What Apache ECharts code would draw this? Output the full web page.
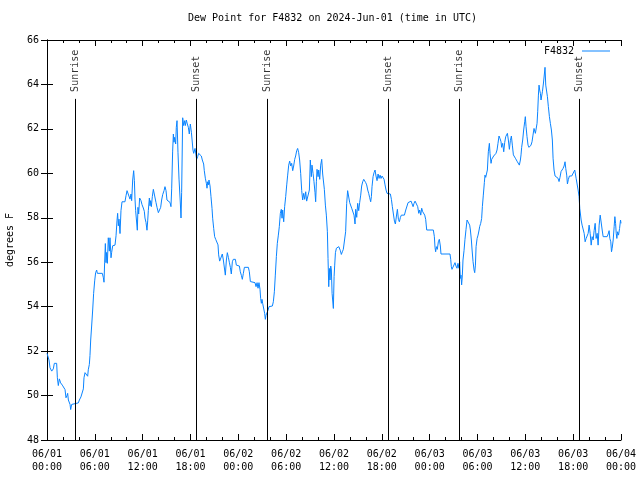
<!DOCTYPE html>
<html>
<head>
<meta charset="utf-8">
<script src="https://cdn.jsdelivr.net/npm/echarts@6/dist/echarts.min.js"></script>
<style>html,body{margin:0;padding:0;background:#fff}#c{width:640px;height:480px}</style>
</head>
<body>
<div id="c"></div>
<script>
// Hours since 2024-06-01 00:00 UTC
const hours = [
0.00,0.25,0.38,0.59,0.79,0.92,1.21,1.30,1.42,1.55,1.71,1.92,2.17,2.26,2.38,2.51,2.59,2.68,2.89,2.97,3.09,3.22,3.93,4.06,4.26,4.43,4.56,4.64,4.77,5.02,5.10,5.18,5.31,5.39,5.48,5.60,5.73,5.85,5.98,6.10,6.23,6.31,6.94,7.07,7.15,7.23,7.32,7.40,7.48,7.57,7.69,7.82,7.90,8.03,8.11,8.24,8.53,8.66,8.78,8.86,8.95,9.03,9.16,9.28,9.41,9.78,9.91,10.04,10.29,10.41,10.54,10.62,10.75,10.87,10.96,11.04,11.12,11.25,11.33,11.41,11.50,11.62,11.79,11.92,12.08,12.21,12.29,12.42,12.54,12.63,12.71,12.84,12.92,13.00,13.09,13.21,13.34,13.55,13.67,13.80,13.97,14.13,14.26,14.38,14.51,14.68,14.80,14.93,15.05,15.30,15.43,15.55,15.64,15.76,15.85,15.93,16.01,16.14,16.22,16.31,16.43,16.56,16.73,16.81,16.89,17.02,17.14,17.27,17.35,17.48,17.60,17.73,17.85,17.98,18.11,18.23,18.31,18.40,18.52,
18.57,18.69,18.77,18.90,19.02,19.19,19.36,19.48,19.65,19.73,19.86,19.99,20.07,20.15,20.24,20.32,20.45,20.57,20.70,20.78,20.91,21.03,21.16,21.33,21.45,21.53,21.66,21.87,21.99,22.12,22.25,22.37,22.50,22.62,22.75,22.87,23.00,23.12,23.25,23.37,23.63,23.75,23.88,24.13,24.25,24.38,24.50,24.63,24.76,25.26,25.38,25.51,25.63,26.09,26.22,26.35,26.47,26.59,26.72,26.80,26.89,26.97,27.05,27.18,27.30,27.39,27.47,27.56,27.73,27.85,28.27,28.39,28.52,28.64,28.77,28.89,29.02,29.14,29.27,29.39,29.48,29.56,29.69,29.81,29.94,30.07,30.19,30.32,30.44,30.57,30.69,30.82,30.94,31.07,31.19,31.32,31.44,31.57,31.69,31.82,31.95,32.07,32.20,32.32,32.45,32.57,32.82,32.91,33.03,33.16,33.24,33.37,33.49,33.62,33.70,33.79,33.87,34.00,34.08,34.21,34.33,34.46,34.58,34.71,34.79,34.92,35.04,35.17,35.25,35.34,35.42,35.50,35.59,35.67,35.76,35.84,35.92,36.01,36.09,36.18,36.30,36.43,36.60,
36.80,36.92,37.05,37.17,37.34,37.46,37.59,37.71,37.84,37.97,38.09,38.22,38.39,38.51,38.64,38.72,38.85,38.97,39.10,39.22,39.35,39.47,39.60,39.73,39.85,39.98,40.10,40.23,40.35,40.48,40.60,40.69,40.77,40.90,41.02,41.15,41.27,41.40,41.53,41.65,41.78,41.90,42.03,42.15,42.28,42.40,42.53,42.65,42.82,43.07,43.20,43.32,43.45,43.58,43.70,43.83,43.95,44.08,44.20,44.33,44.45,44.83,45.00,45.16,45.29,45.41,45.67,45.79,45.92,46.04,46.17,46.38,46.50,46.63,46.75,46.88,47.00,47.13,47.25,47.38,47.50,47.63,47.75,48.46,48.59,48.67,48.75,48.84,48.96,49.09,49.21,49.34,49.42,49.55,50.55,50.64,50.72,50.80,51.05,51.18,51.30,51.43,51.55,51.68,51.76,51.85,51.93,52.01,52.10,52.18,52.31,52.43,52.56,52.69,52.81,52.89,53.02,53.11,53.23,53.32,53.44,53.57,53.65,53.74,53.82,53.95,54.07,54.20,
54.27,54.40,54.52,54.61,54.73,54.86,54.94,55.03,55.15,55.24,55.36,55.49,55.57,55.70,55.78,55.91,56.03,56.20,56.32,56.45,56.57,56.70,56.82,56.95,57.03,57.16,57.29,57.41,57.54,57.66,57.75,57.87,58.00,58.12,58.25,58.37,58.50,58.62,58.75,58.87,59.00,59.12,59.25,59.38,59.46,59.54,59.67,59.79,59.92,60.00,60.09,60.21,60.34,60.46,60.59,60.71,60.84,60.96,61.09,61.17,61.26,61.38,61.47,61.55,61.64,61.72,61.80,61.89,61.97,62.05,62.14,62.26,62.39,62.47,62.56,62.64,62.77,62.89,63.02,63.14,63.27,63.39,63.48,63.60,63.73,63.85,63.98,64.10,64.23,64.35,64.48,64.61,64.73,64.86,64.98,65.07,65.19,65.28,65.40,65.53,65.65,65.82,65.95,66.07,66.20,66.28,66.37,66.49,66.62,66.74,66.83,66.91,67.00,67.12,67.25,67.38,67.50,67.63,67.75,67.88,68.00,68.13,68.26,68.38,68.51,68.63,68.76,68.88,69.01,69.13,69.26,69.39,69.51,69.64,69.76,70.26,70.39,70.51,70.60,70.72,70.81,70.89,71.02,71.14,71.23,71.32,71.40,71.48,71.57,71.69,71.82,71.94,72.00
];
// Dew point, degrees F
const dewF = [
51.9,51.6,51.25,51.1,51.2,51.45,51.45,50.8,50.45,50.75,50.57,50.47,50.47,50.27,49.9,50.0,50.1,49.8,49.6,49.37,49.6,49.67,49.67,49.8,49.94,49.94,50.3,50.8,51.03,51.1,50.87,51.16,51.4,51.8,52.5,53.13,53.85,54.6,55.16,55.53,55.65,55.5,55.5,55.3,55.1,55.97,56.84,55.98,56.44,55.95,57.1,56.5,57.1,56.2,56.44,56.74,56.77,57.19,57.86,58.2,57.64,57.94,57.29,58.32,58.72,58.72,58.99,59.22,59.22,58.84,59.07,58.77,59.7,60.12,59.67,58.84,58.32,58.35,57.44,58.47,58.17,58.89,58.77,58.59,58.44,58.29,57.99,57.79,57.44,57.86,58.32,58.89,58.54,58.77,58.5,58.95,59.28,59.28,58.69,58.47,58.23,58.23,58.47,58.8,59.04,59.22,59.4,59.22,58.8,58.8,58.69,58.5,59.3,61.0,61.77,61.4,61.62,61.32,62.07,62.37,60.95,59.74,58.62,57.99,59.14,62.5,62.15,62.37,62.15,62.4,62.22,62.07,61.77,62.22,61.85,61.77,61.05,60.9,60.95,
61.12,61.05,60.63,60.75,60.9,60.87,60.78,60.6,60.42,60.12,59.78,59.55,59.33,59.62,59.48,59.7,59.43,58.95,58.42,57.98,57.52,57.15,57.03,57.03,56.78,56.33,56.05,56.05,56.37,56.1,56.1,55.42,56.1,56.43,56.22,56.0,55.77,55.47,56.02,56.13,56.13,55.87,55.83,55.83,55.57,55.41,55.23,55.5,55.77,55.77,55.57,55.13,55.08,55.08,54.9,55.08,54.83,55.08,54.78,54.37,54.15,54.33,54.15,54.15,53.7,53.43,53.61,53.55,53.85,54.0,54.03,54.22,54.67,55.42,56.25,56.85,57.22,57.6,58.2,58.38,57.98,58.35,57.82,58.5,58.95,59.48,59.92,60.37,60.55,60.33,60.45,60.12,60.33,60.63,60.78,61.02,61.12,60.93,60.6,60.0,59.22,58.8,59.1,58.83,59.17,58.75,58.75,59.25,60.6,59.85,60.37,60.0,59.62,59.13,58.72,59.62,60.18,59.85,60.15,59.73,60.37,60.63,59.97,60.0,59.28,58.57,58.12,57.37,56.17,54.9,55.72,55.2,55.83,55.65,54.6,54.52,53.92,55.35,55.87,56.43,56.63,56.7,56.7,
56.52,56.35,56.47,56.58,56.67,57.37,58.65,59.22,59.13,58.68,58.68,58.43,58.43,58.12,57.72,58.38,58.02,58.65,58.32,58.68,59.02,59.43,59.62,59.73,59.77,59.58,59.48,59.25,59.1,58.9,58.72,58.95,59.4,59.85,60.03,60.15,59.88,59.67,59.97,59.77,59.92,59.77,59.88,59.97,59.73,59.48,59.25,59.1,59.07,59.07,58.83,58.5,58.17,57.85,57.72,58.08,58.38,57.93,57.82,58.02,58.12,58.12,58.35,58.53,58.68,58.75,58.75,58.68,58.5,58.65,58.75,58.75,58.5,58.2,58.35,58.12,58.43,58.27,58.2,58.12,57.93,57.45,57.45,57.45,57.15,56.67,56.47,56.7,56.58,56.92,57.03,56.73,56.37,56.37,56.37,56.13,55.8,55.68,55.68,55.98,55.83,55.73,55.95,55.73,56.02,55.27,55.42,54.98,55.42,56.1,56.52,57.03,57.48,57.9,57.98,57.82,57.67,57.45,57.0,56.55,56.03,55.65,55.53,55.87,56.7,57.07,57.22,57.45,
57.6,57.75,57.97,58.5,59.02,59.58,59.92,59.82,59.78,60.15,60.97,61.35,60.9,60.45,60.63,60.72,60.78,60.83,60.9,61.05,61.35,61.68,61.57,61.42,61.17,61.35,60.97,61.38,61.65,61.72,61.8,61.5,61.08,61.47,61.68,61.27,60.83,60.75,60.68,60.6,60.52,60.45,60.37,60.6,60.83,61.17,61.5,61.95,62.32,62.55,62.1,61.65,61.27,61.17,61.17,61.27,61.42,61.72,62.02,61.95,61.8,61.87,62.25,62.77,63.52,63.97,63.75,63.6,63.3,63.48,63.67,64.02,64.47,64.77,63.97,63.9,63.45,63.0,62.55,62.25,61.95,61.5,60.68,60.15,59.88,59.8,59.92,59.78,59.63,59.82,60.08,60.15,60.22,60.33,60.52,60.22,59.92,59.52,59.73,59.88,59.88,59.88,59.82,59.88,60.15,60.18,59.78,59.73,59.25,58.95,58.42,58.35,57.9,57.67,57.6,57.3,56.92,57.07,57.18,57.3,57.67,57.3,56.77,57.15,57.0,57.42,57.75,57.07,57.3,56.77,57.67,58.12,58.12,57.45,57.15,57.15,57.27,57.42,57.07,56.92,56.47,56.62,57.0,57.6,58.05,57.75,57.3,57.07,57.37,57.22,57.52,57.9,57.75
];
const sunHours = [3.60, 18.73, 27.68, 42.81, 51.72, 66.77];
const sunLabels = ['Sunrise','Sunset','Sunrise','Sunset','Sunrise','Sunset'];
const yTicks = [48,50,52,54,56,58,60,62,64,66];

const FONT = 'DejaVu Sans Mono';
const chart = echarts.init(document.getElementById('c'), null, {renderer:'canvas'});
function xLabel(v){
  const d = 1 + Math.floor(v/24);
  const hh = v % 24;
  return '06/0' + d + '\n' + String(hh).padStart(2,'0') + ':00';
}
const lineTop = 63.35;
const axisCommon = {
  axisLine:{show:true, lineStyle:{color:'#000', width:1}},
  splitLine:{show:false}
};
chart.setOption({
  animation:false,
  backgroundColor:'#fff',
  title:{text:'Dew Point for F4832 on 2024-Jun-01 (time in UTC)', left:183, top:8,
    textStyle:{fontFamily:FONT, fontSize:10, fontWeight:'normal', color:'#000'}},
  legend:{data:['F4832'], right:25, top:41, align:'right', icon:'rect', itemWidth:28, itemHeight:1,
    textStyle:{fontFamily:FONT, fontSize:10, color:'#000', padding:[0,3,0,0]}},
  grid:{left:47, right:19, top:40, bottom:40, containLabel:false, outerBoundsMode:'none'},
  xAxis:[
    Object.assign({type:'value', min:0, max:72, interval:6, position:'bottom',
      axisTick:{inside:true, length:6, lineStyle:{color:'#000'}},
      minorTick:{show:true, splitNumber:3, length:3, lineStyle:{color:'#000'}},
      axisLabel:{formatter:xLabel, fontFamily:FONT, fontSize:10, color:'#000', lineHeight:13, margin:8}}, axisCommon),
    Object.assign({type:'value', min:0, max:72, interval:6, position:'top',
      axisTick:{inside:true, length:6, lineStyle:{color:'#000'}},
      minorTick:{show:true, splitNumber:3, length:3, lineStyle:{color:'#000'}},
      axisLabel:{show:false}}, axisCommon)
  ],
  yAxis:[
    Object.assign({type:'value', min:yTicks[0], max:yTicks[yTicks.length-1], interval:2, position:'left',
      name:'degrees F', nameLocation:'middle', nameGap:32, nameRotate:90,
      nameTextStyle:{fontFamily:FONT, fontSize:10, color:'#000'},
      axisTick:{inside:true, length:6, lineStyle:{color:'#000'}},
      axisLabel:{fontFamily:FONT, fontSize:10, color:'#000', margin:8}}, axisCommon),
    Object.assign({type:'value', min:yTicks[0], max:yTicks[yTicks.length-1], interval:2, position:'right',
      axisTick:{inside:true, length:6, lineStyle:{color:'#000'}},
      axisLabel:{show:false}}, axisCommon)
  ],
  series:[
    {name:'F4832', type:'line', xAxisIndex:0, yAxisIndex:0,
     data: hours.map((h,i)=>[h, dewF[i]]),
     showSymbol:false, symbol:'none', lineStyle:{color:'#0a84ff', width:1}, itemStyle:{color:'#0a84ff'}, z:3},
    {name:'sun', type:'scatter', xAxisIndex:0, yAxisIndex:0, symbolSize:0, silent:true,
     data: sunHours.map((h,i)=>({value:[h, lineTop], name:sunLabels[i]})),
     label:{show:true, formatter:p=>p.name, position:'top', distance:7, rotate:90, align:'left', verticalAlign:'middle',
       fontFamily:FONT, fontSize:10, color:'#000'},
     markLine:{silent:true, symbol:'none', animation:false, label:{show:false},
       lineStyle:{color:'#000', width:1, type:'solid'},
       emphasis:{disabled:true},
       data: sunHours.map(h=>[{coord:[h, yTicks[0]]},{coord:[h, lineTop]}])}, z:2}
  ]
});
</script>
</body>
</html>
